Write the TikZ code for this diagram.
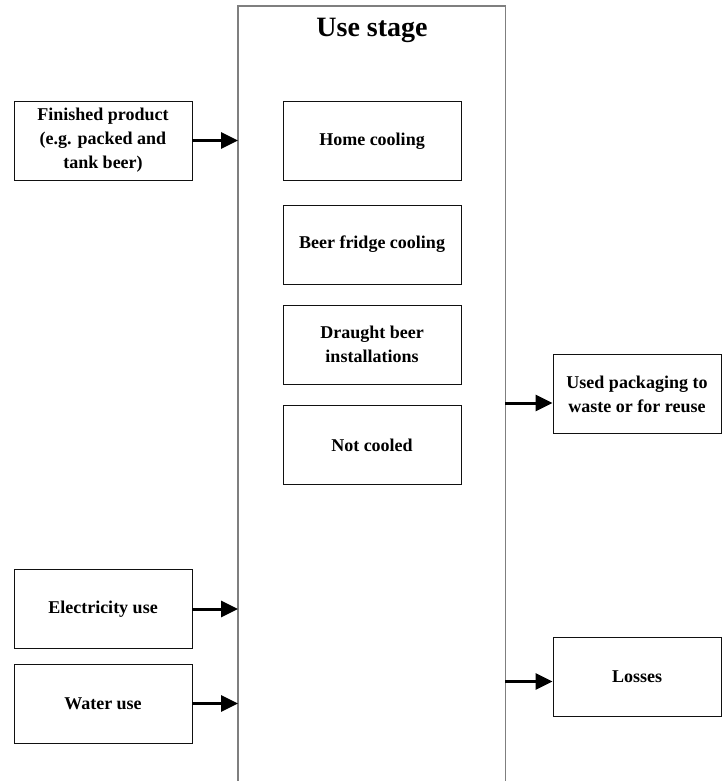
\documentclass[tikz,border=0pt]{standalone}
\usepackage{fontspec}
\setmainfont{Liberation Serif}
\usetikzlibrary{arrows.meta,positioning}
\definecolor{ink}{HTML}{111111}
\definecolor{frame}{HTML}{7F7F7F}

\begin{document}
\begin{tikzpicture}[x=1pt,y=-1pt,font=\fontsize{18}{24}\selectfont\bfseries,
  box/.style={draw=ink,line width=0.9pt,minimum width=178pt,minimum height=79pt,align=center,inner sep=2pt},
  sidebox/.style={box,minimum width=168pt},
  flow/.style={-{Triangle[length=17pt,width=16pt]},line width=3pt,draw=black}]
\useasboundingbox (0,0) rectangle (722,781);
% use stage frame, open at the bottom
\node[minimum width=267pt,minimum height=775pt,anchor=north west,inner sep=0pt] (stage) at (238,6) {};
\draw[frame,line width=1.3pt] (stage.south west) |- (stage.north) -| (stage.south east);
\node[font=\fontsize{28}{32}\selectfont\bfseries] (title) at (372,30) {Use stage};
\node[box] (home) at (372,141) {Home cooling};
\node[box] (fridge) at (372,244.5) {Beer fridge cooling};
\node[box] (draught) at (372,344.5) {Draught beer\\installations};
\node[box] (notcool) at (372,445) {Not cooled};
% inputs
\node[box] (fin) at (103,140.5) {Finished product\\(e.g. packed and\\tank beer)};
\node[box] (elec) at (103,609) {Electricity use};
\node[box] (water) at (103,703.5) {Water use};
% outputs
\node[sidebox] (pack) at (637,394) {Used packaging to\\waste or for reuse};
\node[sidebox] (loss) at (637,676.5) {Losses};
\draw[flow] (fin.east) -- (fin.east -| stage.west);
\draw[flow] (elec.east) -- (elec.east -| stage.west);
\draw[flow] (water.east) -- (water.east -| stage.west);
\draw[flow] ([yshift=-9pt]pack.west -| stage.east) -- ([yshift=-9pt]pack.west);
\draw[flow] ([yshift=-5pt]loss.west -| stage.east) -- ([yshift=-5pt]loss.west);
\end{tikzpicture}
\end{document}
